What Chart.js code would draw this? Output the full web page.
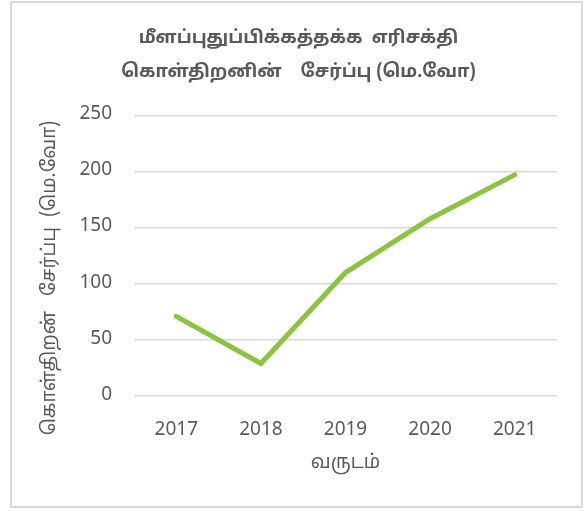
<!DOCTYPE html>
<html>
<head>
<meta charset="utf-8">
<script src="https://cdn.jsdelivr.net/npm/chart.js@4/dist/chart.umd.min.js"></script>
<style>
    body { margin: 0; background: #fff; }
    #frame {
        position: absolute; left: 10px; top: 1px;
        width: 573px; height: 507px;
        border: 2px solid #d9d9d9; box-sizing: border-box;
    }
</style>
</head>
<body>
<div id="frame"><canvas id="chart"></canvas></div>
<script>
// chart data
const years = ['2017', '2018', '2019', '2020', '2021'];
const capacity = [71, 29, 110, 158, 197];
const chartTitle = ['மீளப்புதுப்பிக்கத்தக்க  எரிசக்தி', 'கொள்திறனின்    சேர்ப்பு (மெ.வோ)'];
const yTitle = 'கொள்திறன்   சேர்ப்பு  (மெ.வோ)\u00a0\u00a0\u00a0\u00a0\u00a0\u00a0\u00a0\u00a0\u00a0';
const xTitle = 'வருடம்';

const fontFamily = '"Noto Sans Tamil", "Lohit Tamil", "Liberation Sans", "Noto Sans", sans-serif';
const grey = '#595959';

const ctx = document.getElementById('chart').getContext('2d');
new Chart(ctx, {
    type: 'line',
    data: {
        labels: years,
        datasets: [{
            data: capacity,
            borderColor: '#8cc43f',
            borderWidth: 5,
            borderCapStyle: 'round',
            borderJoinStyle: 'round',
            pointRadius: 0,
            tension: 0
        }]
    },
    options: {
        responsive: true,
        maintainAspectRatio: false,
        animation: false,
        layout: { padding: { left: 28, right: 24, top: 0, bottom: 30 } },
        plugins: {
            legend: { display: false },
            tooltip: { enabled: false },
            title: {
                display: true,
                text: chartTitle,
                color: grey,
                font: { family: fontFamily, size: 18, weight: 'bold', lineHeight: 1.9 },
                padding: { top: 19, bottom: 25 }
            }
        },
        scales: {
            x: {
                offset: true,
                grid: { display: false },
                border: { display: false },
                ticks: { color: grey, font: { family: fontFamily, size: 19 }, padding: 16 },
                title: {
                    display: true,
                    text: xTitle,
                    color: grey,
                    font: { family: fontFamily, size: 19 },
                    padding: 0
                },
                afterFit: (scale) => { scale.height = 80; }
            },
            y: {
                min: 0,
                max: 250,
                ticks: { stepSize: 50, color: grey, font: { family: fontFamily, size: 19 }, padding: 22 },
                grid: { color: '#d9d9d9', lineWidth: 1.5, drawTicks: true, tickLength: 0 },
                border: { display: false },
                title: {
                    display: true,
                    text: yTitle,
                    color: grey,
                    font: { family: fontFamily, size: 19 },
                    padding: 0
                },
                afterFit: (scale) => { scale.width = 94; }
            }
        }
    }
});
</script>
</body>
</html>
